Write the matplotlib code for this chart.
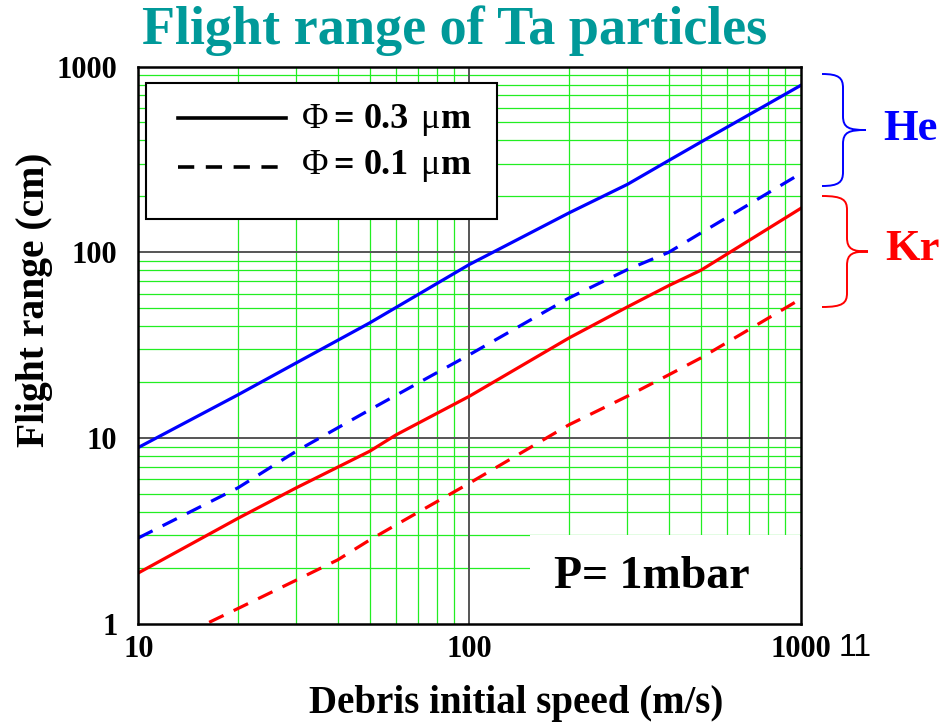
import numpy as np
import matplotlib.pyplot as plt
from matplotlib.path import Path
from matplotlib.patches import PathPatch, Rectangle
from matplotlib.lines import Line2D
from matplotlib.ticker import FixedLocator, NullFormatter

# data (speed in m/s, range in cm)
he_03_x = [10, 20, 30, 50, 100, 200, 300, 400, 500, 1000]
he_03_y = [8.9, 17.1, 25.4, 41.7, 86, 163, 232, 312, 392, 790]
he_01_x = [10, 20, 30, 50, 100, 200, 300, 400, 500, 1000]
he_01_y = [2.9, 5.4, 8.5, 14.2, 28.1, 56.8, 80.7, 100, 127, 265]
kr_03_x = [10, 20, 30, 50, 60, 100, 200, 300, 400, 500, 1000]
kr_03_y = [1.88, 3.7, 5.4, 8.5, 10.4, 16.8, 34.6, 50.8, 66.2, 80, 172]
kr_01_x = [10, 16, 20, 30, 40, 50, 60, 100, 200, 300, 400, 500, 1000]
kr_01_y = [0.62, 1.0, 1.21, 1.72, 2.21, 2.83, 3.41, 5.72, 11.8, 16.8, 21.9, 27.0, 56]

serif = 'Liberation Serif'
W, H = 949, 725
fig = plt.figure(figsize=(W / 100, H / 100), dpi=100)
ax = fig.add_axes([138.3 / W, 1 - 623.9 / H, (800.5 - 138.3) / W, (623.9 - 66.5) / H])
ax.set_xscale('log')
ax.set_yscale('log')
ax.set_xlim(10, 1000)
ax.set_ylim(1, 1000)

# green minor grid, dark major grid
minors = [m * 10 ** d for d in range(0, 3) for m in range(2, 10)]
for v in minors:
    if 10 <= v <= 1000:
        ax.axvline(v, color='#22ee22', lw=0.9, zorder=1)
    ax.axhline(v, color='#22ee22', lw=0.9, zorder=1)
ax.axvline(100, color='#555555', lw=1.4, zorder=1.5)
for v in [10, 100]:
    ax.axhline(v, color='#555555', lw=1.4, zorder=1.5)

lw = 2.3
ax.plot(he_03_x, he_03_y, color='#0000ff', lw=lw, zorder=3)
ax.plot(he_01_x, he_01_y, color='#0000ff', lw=lw, dashes=(5, 3.5), zorder=3)
ax.plot(kr_03_x, kr_03_y, color='#ff0000', lw=lw, zorder=3)
ax.plot(kr_01_x, kr_01_y, color='#ff0000', lw=lw, dashes=(5, 3.5), zorder=3)

ax.xaxis.set_major_locator(FixedLocator([10, 100, 1000]))
ax.yaxis.set_major_locator(FixedLocator([1, 10, 100, 1000]))
ax.xaxis.set_minor_formatter(NullFormatter())
ax.yaxis.set_minor_formatter(NullFormatter())
ax.set_xticklabels(['10', '100', '1000'])
ax.set_yticklabels(['1', '10', '100', '1000'])
ax.tick_params(which='both', length=0)
ax.tick_params(axis='y', pad=15)
ax.tick_params(axis='x', pad=8)
for t in ax.get_xticklabels() + ax.get_yticklabels():
    t.set_fontfamily(serif)
    t.set_fontweight('bold')
    t.set_fontsize(22)
for s in ax.spines.values():
    s.set_linewidth(1.8)
    s.set_zorder(5)

# white patch behind the pressure note
ax.add_patch(Rectangle((530 / W, 1 - 624 / H), (800 - 530) / W, (624 - 535) / H,
                       transform=fig.transFigure, facecolor='white', edgecolor='none', zorder=2))
fig.text(652 / W, 1 - 577 / H, 'P= 1mbar', fontfamily=serif, fontweight='bold',
         fontsize=33, ha='center', va='center', zorder=6)

# legend box
ax.add_patch(Rectangle((146 / W, 1 - 219 / H), (497 - 146) / W, (219 - 83) / H,
                       transform=fig.transFigure, facecolor='white', edgecolor='black',
                       lw=1.5, zorder=4))
fig.add_artist(Line2D([178 / W, 286 / W], [1 - 118 / H] * 2, color='black', lw=2.6,
                      transform=fig.transFigure))
fig.add_artist(Line2D([178 / W, 286 / W], [1 - 167 / H] * 2, color='black', lw=2.6,
                      dashes=(4.5, 3.2), transform=fig.transFigure))

for yy, val in [(120, '0.3'), (166, '0.1')]:
    parts = [(302, '\u03a6', 'normal'), (333, '=', 'bold'), (364, val, 'bold'),
             (420, '\u03bc', 'normal'), (441, 'm', 'bold')]
    for xx, s, wgt in parts:
        fig.text(xx / W, 1 - yy / H, s, fontfamily=serif, fontweight=wgt, fontsize=26,
                 ha='left', va='center', zorder=6)

fig.text(455 / W, 1 - 31 / H, 'Flight range of Ta particles', fontfamily=serif,
         fontweight='bold', fontsize=39, color='#009999', ha='center', va='center')
fig.text(35 / W, 1 - 300 / H, 'Flight range (cm)', fontfamily=serif, fontweight='bold',
         fontsize=28.5, rotation=90, ha='center', va='center')
fig.text(516 / W, 1 - 703 / H, 'Debris initial speed (m/s)', fontfamily=serif,
         fontweight='bold', fontsize=28, ha='center', va='center')
fig.text(855 / W, 1 - 648 / H, '11', fontfamily='Liberation Sans', fontsize=23,
         ha='center', va='center')


def brace(top, bottom, xv, xm, color):
    x0 = 822
    mid = (top + bottom) / 2
    pts = [(x0, top), (xv - 4, top), (xv, top + 4), (xv, top + 14),
           (xv, mid - 14),
           (xv, mid - 2), (xv + 6, mid), (xm, mid),
           (xv + 6, mid), (xv, mid + 2), (xv, mid + 14),
           (xv, bottom - 14),
           (xv, bottom - 4), (xv - 4, bottom), (x0, bottom)]
    codes = [Path.MOVETO, Path.CURVE4, Path.CURVE4, Path.CURVE4,
             Path.LINETO,
             Path.CURVE4, Path.CURVE4, Path.CURVE4,
             Path.CURVE4, Path.CURVE4, Path.CURVE4,
             Path.LINETO,
             Path.CURVE4, Path.CURVE4, Path.CURVE4]
    verts = [(x / W, 1 - y / H) for x, y in pts]
    fig.add_artist(PathPatch(Path(verts, codes), transform=fig.transFigure,
                             facecolor='none', edgecolor=color, lw=1.4))


brace(74, 186, 843, 866, '#0000ff')
brace(196, 307, 847, 868, '#ff0000')
fig.text(910 / W, 1 - 129 / H, 'He', fontfamily=serif, fontweight='bold', fontsize=32,
         color='#0000ff', ha='center', va='center')
fig.text(913 / W, 1 - 249 / H, 'Kr', fontfamily=serif, fontweight='bold', fontsize=32,
         color='#ff0000', ha='center', va='center')

fig.savefig('out.png', dpi=100)
